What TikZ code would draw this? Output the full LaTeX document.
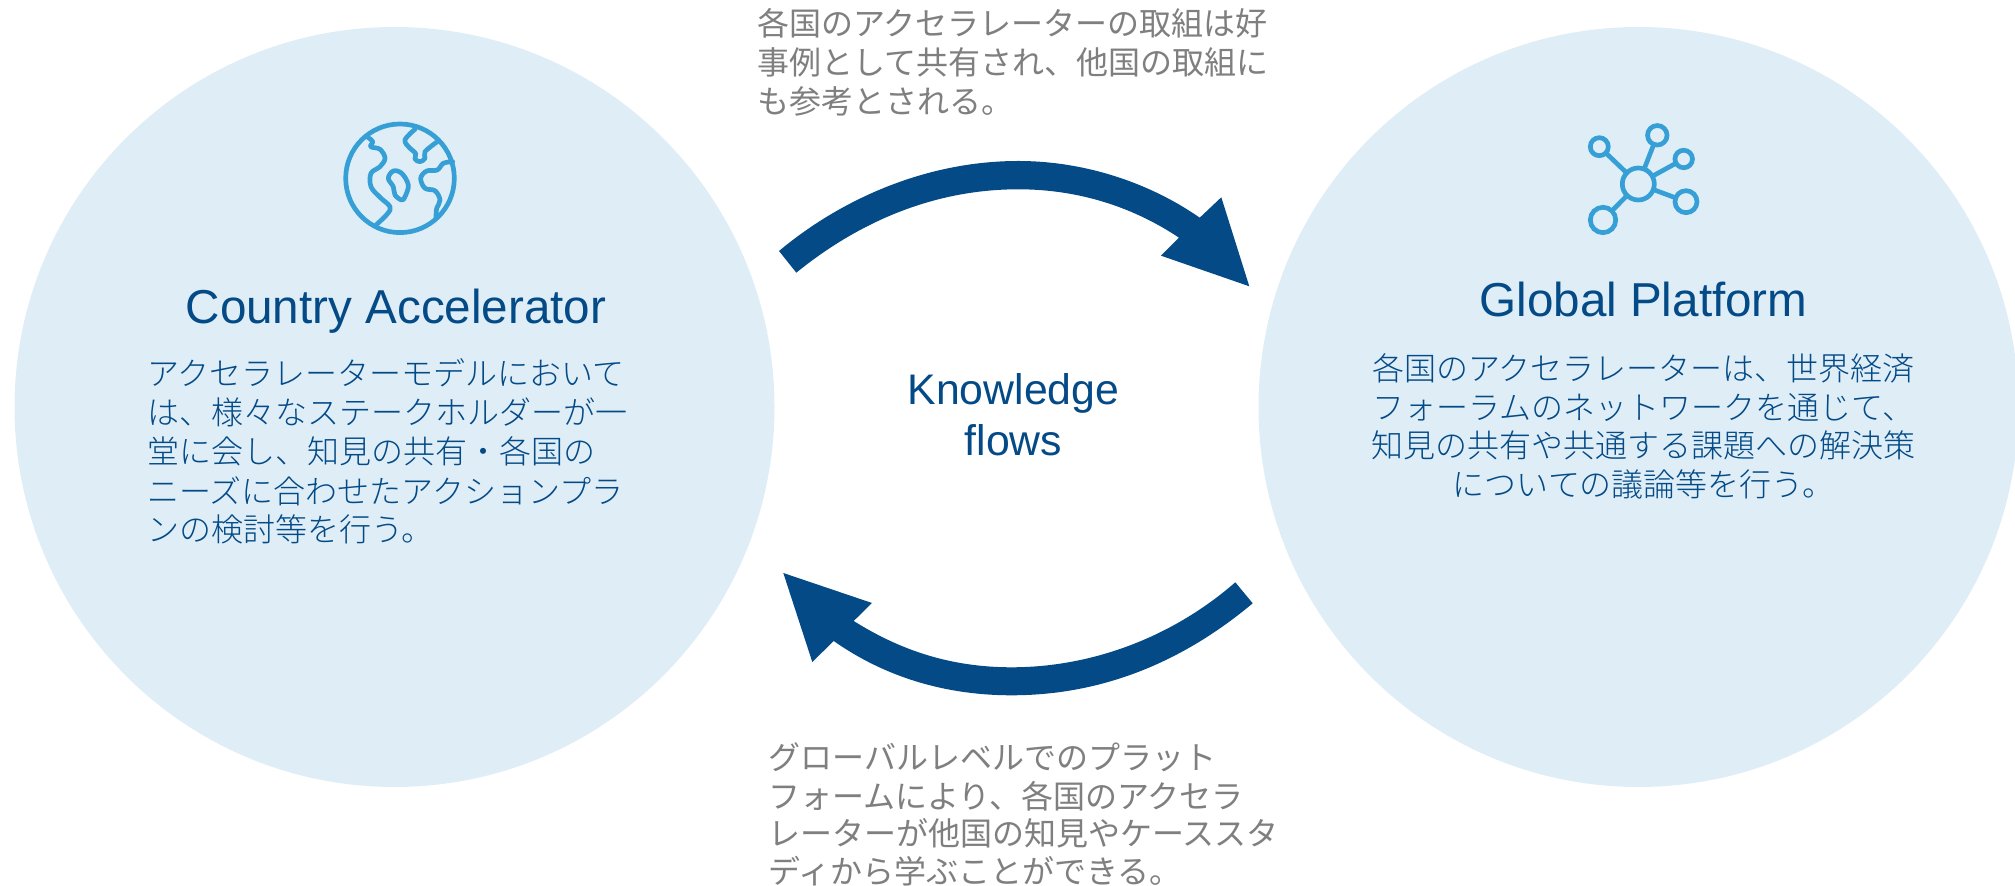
\documentclass[tikz,border=0pt]{standalone}
\usepackage{fontspec}
\setmainfont{Liberation Sans}
\newfontfamily\cjk{Noto Sans CJK JP}
\newfontfamily\cjklight{Noto Sans CJK JP Light}
\definecolor{pale}{HTML}{DFEEF6}
\definecolor{navy}{HTML}{034A87}
\definecolor{iconblue}{HTML}{36A0D6}
\definecolor{txtgray}{HTML}{7F7F7F}
\tikzset{
  x=0.5pt,y=-0.5pt,
  bubble/.style={circle,fill=pale,draw=none,minimum size=380pt,inner sep=0pt},
  heading/.style={text=navy,font=\fontsize{23.8}{24}\selectfont,inner sep=0pt,anchor=base},
  flowlabel/.style={text=navy,font=\fontsize{21.4}{22}\selectfont,inner sep=0pt,anchor=base},
  bodyline/.style={text=navy,font=\cjklight\fontsize{16}{16}\selectfont,inner sep=0pt,anchor=base},
  noteline/.style={text=txtgray,font=\cjk\fontsize{16}{16}\selectfont,inner sep=0pt,anchor=base west},
  bigarrow/.style={fill=navy,draw=none},
  iconline/.style={draw=iconblue,line width=2.35pt,line cap=round,line join=round,fill=none},
  iconring/.style={circle,draw=iconblue,line width=2.35pt,inner sep=0pt,outer sep=0pt},
}
\begin{document}
\begin{tikzpicture}
\useasboundingbox (0,0) rectangle (2015,886);
\node[bubble] (left) at (394.5,407) {};
\node[bubble] (right) at (1638.5,407) {};

% globe
\node[iconring,minimum size=54.3pt] (globe) at (400,178.3) {};
\draw[iconline] plot[smooth,tension=0.6] coordinates {(368.3,137.7) (372.7,141.7) (370.7,146.7) (380,149.3) (385,158.3) (380,166.7) (371,173.3) (371,186.7) (380,197.3) (390,206.7) (387.3,214) (376,225)};
\draw[iconline] plot[smooth,tension=0.6] coordinates {(415,129.3) (405,140) (410,148.3) (415.7,153.3) (415,159) (420,161.7) (425,158.3) (425,151.7) (437.3,141.7)};
\draw[iconline] plot[smooth,tension=0.6] coordinates {(452.7,161.7) (443.3,163.3) (437.3,170) (426.7,171) (420.7,178.3) (425,188.3) (435,190.7) (440,200) (436.7,208.3) (436,217.7)};
\draw[iconline] plot[smooth cycle,tension=0.6] coordinates {(393.3,171) (388.3,178.3) (393.3,186.7) (395,195) (401.7,200) (405,196.7) (408.3,185) (401.7,173.3)};

% network icon
\node[iconring,minimum size=16pt] (hub) at (1638.3,184) {};
\node[iconring,minimum size=9.75pt] (nb) at (1657.3,135.3) {};
\node[iconring,minimum size=9pt] (na) at (1599.3,146.7) {};
\node[iconring,minimum size=8.75pt] (nc) at (1683.7,159) {};
\node[iconring,minimum size=11pt] (nd) at (1686,201.7) {};
\node[iconring,minimum size=12.7pt] (ne) at (1603,220) {};
\draw[iconline,line cap=butt] (hub) -- (na);
\draw[iconline,line cap=butt] (hub) -- (nb);
\draw[iconline,line cap=butt] (hub) -- (nc);
\draw[iconline,line cap=butt] (hub) -- (nd);
\draw[iconline,line cap=butt] (hub) -- (ne);

% top arrow
\coordinate (ta) at (779,251);
\coordinate (tb) at (796.3,272.7);
\coordinate (tip1) at (1249.3,286.3);
\fill[bigarrow] (ta) .. controls (840,200) and (925,161) .. (1018.3,161)
  .. controls (1085,161) and (1150,183) .. (1199.7,217.7)
  -- (1221.3,197.3) -- (tip1) -- (1161,255.7) -- (1179,237.7)
  .. controls (1130,205) and (1075,189.3) .. (1018.3,189.3)
  .. controls (930,189.3) and (855,225) .. (tb) -- cycle;
% bottom arrow
\coordinate (ba) at (1235.3,582.3);
\coordinate (bb) at (1252.7,603.3);
\coordinate (tip2) at (783.3,573);
\fill[bigarrow] (ba) .. controls (1175,635) and (1095,667.3) .. (1011.7,667.3)
  .. controls (950,667.3) and (900,650) .. (853.7,621)
  -- (872,603) -- (tip2) -- (812.3,662) -- (833.7,641)
  .. controls (885,677) and (945,695.3) .. (1011.7,695.3)
  .. controls (1105,695.3) and (1185,660) .. (bb) -- cycle;

\node[heading] (h1) at (396,323.5) {Country Accelerator};
\node[heading] (h2) at (1643.5,317) {Global Platform};
\node[flowlabel] (f1) at (1013.5,405) {Knowledge};
\node[flowlabel] (f2) at (1013.5,456) {flows};

\node[bodyline,anchor=base west] (l1) at (147,386) {アクセラレーターモデルにおいて};
\node[bodyline,anchor=base west] (l2) at (147,425) {は、様々なステークホルダーが一};
\node[bodyline,anchor=base west] (l3) at (147,464) {堂に会し、知見の共有・各国の};
\node[bodyline,anchor=base west] (l4) at (147,504) {ニーズに合わせたアクションプラ};
\node[bodyline,anchor=base west] (l5) at (147,542) {ンの検討等を行う。};

\node[bodyline] (r1) at (1643.5,380.5) {各国のアクセラレーターは、世界経済};
\node[bodyline] (r2) at (1643.5,419.5) {フォーラムのネットワークを通じて、};
\node[bodyline] (r3) at (1643.5,457.5) {知見の共有や共通する課題への解決策};
\node[bodyline] (r4) at (1643.5,496.5) {についての議論等を行う。};

\node[noteline] (t1) at (757,36) {各国のアクセラレーターの取組は好};
\node[noteline] (t2) at (757,75) {事例として共有され、他国の取組に};
\node[noteline] (t3) at (757,114) {も参考とされる。};

\node[noteline] (b1) at (768,770) {グローバルレベルでのプラット};
\node[noteline] (b2) at (768,808.5) {フォームにより、各国のアクセラ};
\node[noteline] (b3) at (768,846) {レーターが他国の知見やケーススタ};
\node[noteline] (b4) at (768,884) {ディから学ぶことができる。};
\end{tikzpicture}
\end{document}
